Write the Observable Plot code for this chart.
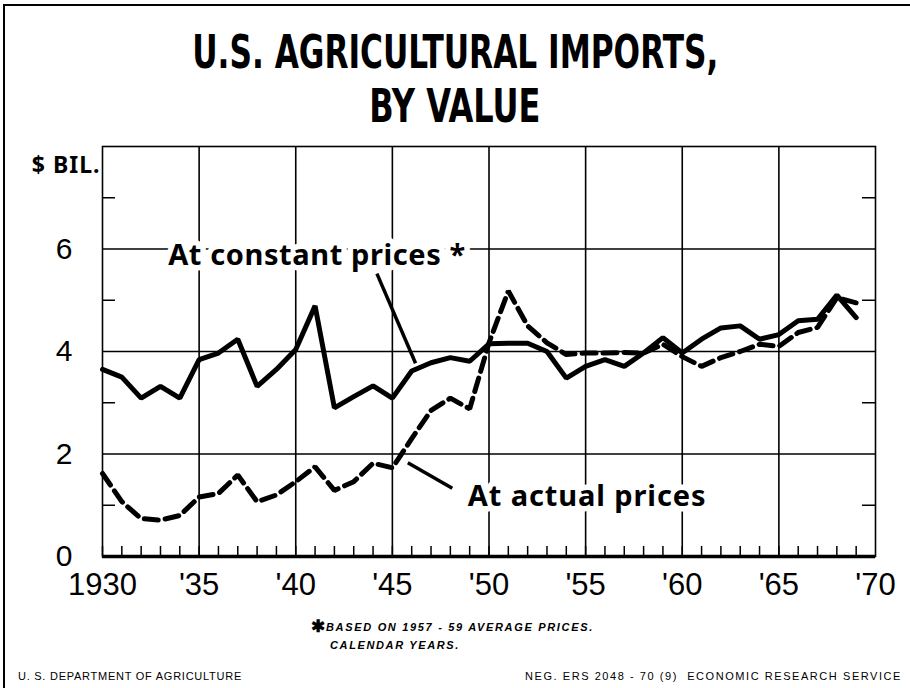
<!DOCTYPE html>
<html>
<head>
<meta charset="utf-8">
<script src="https://cdn.jsdelivr.net/npm/d3@7"></script>
<script src="https://cdn.jsdelivr.net/npm/@observablehq/plot@0.6"></script>
<style>
html, body { margin: 0; padding: 0; background: #fff; }
#page { position: relative; width: 910px; height: 688px; overflow: hidden; background: #fff; }
#border { position: absolute; left: 3px; top: 4px; width: 930px; height: 720px; border-top: 2px solid #000; border-left: 2px solid #000; z-index: 5; pointer-events: none; }
.title { position: absolute; left: 0; width: 910px; text-align: center; white-space: nowrap;
  font-family: "Liberation Sans Narrow", "DejaVu Sans Condensed", "Liberation Sans", sans-serif;
  font-weight: bold; font-size: 47px; line-height: 1; color: #000; }
.title span { display: inline-block; transform-origin: center; }
#chart { position: absolute; left: 0; top: 130px; }
.note { position: absolute; white-space: nowrap; font-family: "Liberation Sans", sans-serif; font-style: italic; font-weight: bold; font-size: 11px; line-height: 1; color: #000; }
.foot { position: absolute; white-space: nowrap; font-family: "Liberation Sans", sans-serif; font-size: 11px; line-height: 1; color: #000; }
.fit { display: inline-block; }
</style>
</head>
<body>
<div id="page">
  <div class="title" style="top:28px"><span id="t1">U.S. AGRICULTURAL IMPORTS,</span></div>
  <div class="title" style="top:82px"><span id="t2">BY VALUE</span></div>
  <div id="chart"></div>
  <div class="note" style="left:311px;top:618px;font-size:17px;font-style:normal">✱</div>
  <div class="note" style="left:326px;top:622px"><span class="fit" id="n1">BASED ON 1957 - 59 AVERAGE PRICES.</span></div>
  <div class="note" style="left:330px;top:640px"><span class="fit" id="n2">CALENDAR YEARS.</span></div>
  <div class="foot" style="left:18px;top:671px"><span class="fit" id="f1">U. S. DEPARTMENT OF AGRICULTURE</span></div>
  <div class="foot" style="left:525px;top:671px"><span class="fit" id="f2">NEG. ERS 2048 - 70 (9)&nbsp; ECONOMIC RESEARCH SERVICE</span></div>
  <div id="border"></div>
</div>
<script>
// ---- data ----
const years = [1930,1931,1932,1933,1934,1935,1936,1937,1938,1939,
               1940,1941,1942,1943,1944,1945,1946,1947,1948,1949,
               1950,1951,1952,1953,1954,1955,1956,1957,1958,1959,
               1960,1961,1962,1963,1964,1965,1966,1967,1968,1969];
// At constant prices (1957-59 average), $ billion
const constantPrices = [3.65,3.50,3.09,3.32,3.09,3.84,3.97,4.24,3.32,3.65,
                        4.04,4.89,2.90,3.12,3.33,3.09,3.62,3.78,3.88,3.81,
                        4.15,4.16,4.16,4.00,3.48,3.71,3.84,3.71,3.97,4.27,
                        3.97,4.24,4.46,4.50,4.24,4.33,4.60,4.63,5.10,4.66];
// At actual prices, $ billion
const actualPrices = [1.62,1.07,0.74,0.71,0.80,1.16,1.23,1.59,1.07,1.20,
                      1.46,1.75,1.29,1.46,1.82,1.73,2.30,2.85,3.09,2.88,
                      4.17,5.18,4.50,4.17,3.94,3.97,3.97,3.98,3.97,4.14,
                      3.90,3.71,3.88,4.00,4.14,4.10,4.37,4.47,5.05,4.95];
const xTicks = [1930,1935,1940,1945,1950,1955,1960,1965,1970];
const xTickLabels = ["1930","'35","'40","'45","'50","'55","'60","'65","'70"];
const xGrid = [1935,1940,1945,1950,1955,1960,1965];
const yTicks = [0,2,4,6];
const yTickLabels = ["0","2","4","6"];
const yGrid = [2,4,6];
const yMinor = [1,3,5,7];
const yLabel = "$ BIL.";
// annotations: label text and data-space anchor, leader line ends
const labelTexts = ["At constant prices *","At actual prices"];
const labelX = [1933.4, 1948.9];
const labelY = [5.86, 1.17];
const leaderX1 = [1944.2, 1945.8];
const leaderY1 = [5.52, 1.83];
const leaderX2 = [1946.2, 1948.1];
const leaderY2 = [3.77, 1.33];

const rows = years.map((yr, i) => ({year: yr, constant: constantPrices[i], actual: actualPrices[i]}));
const labels = labelTexts.map((t, i) => ({text: t, x: labelX[i], y: labelY[i]}));
const leaders = leaderX1.map((x, i) => ({x1: x, y1: leaderY1[i], x2: leaderX2[i], y2: leaderY2[i]}));
const xLabelMap = new Map(xTicks.map((t, i) => [t, xTickLabels[i]]));
const yLabelMap = new Map(yTicks.map((t, i) => [t, yTickLabels[i]]));

const W = 910, H = 480, mL = 102, mR = 35, mT = 16, mB = 54;
const innerW = W - mL - mR, innerH = H - mT - mB;
const tickFont = "'Liberation Sans', Arial, sans-serif";
const annFont = "'Noto Sans', 'DejaVu Sans', sans-serif";

const chart = Plot.plot({
  width: W, height: H,
  marginLeft: mL, marginRight: mR, marginTop: mT, marginBottom: mB,
  x: {domain: [1930, 1970]},
  y: {domain: [0, 8]},
  style: {background: "transparent", color: "black", overflow: "visible"},
  marks: [
    Plot.gridX(xGrid, {stroke: "black", strokeOpacity: 1, strokeWidth: 1.6}),
    Plot.gridY(yGrid, {stroke: "black", strokeOpacity: 1, strokeWidth: 1.6}),
    Plot.frame({stroke: "black", strokeWidth: 1.6}),
    Plot.tickX(years, {x: d => d, insetTop: innerH - 10, stroke: "black", strokeWidth: 1.5}),
    Plot.tickY(yMinor, {y: d => d, insetRight: innerW - 13, stroke: "black", strokeWidth: 1.5}),
    Plot.tickY(yMinor, {y: d => d, insetLeft: innerW - 13, stroke: "black", strokeWidth: 1.5}),
    Plot.ruleY([0], {stroke: "black", strokeWidth: 3.5}),
    Plot.axisX(xTicks, {tickSize: 0, tickPadding: 16, tickFormat: d => xLabelMap.get(d),
      fontSize: 31, fontFamily: tickFont, label: null}),
    Plot.axisY(yTicks, {tickSize: 0, tickPadding: 30, tickFormat: d => yLabelMap.get(d),
      fontSize: 30, fontFamily: tickFont, label: null}),
    Plot.text([yLabel], {frameAnchor: "top-left", dx: -2, dy: 10, textAnchor: "end",
      fontSize: 23, fontWeight: "bold", fontFamily: annFont}),
    Plot.text(labels, {x: "x", y: "y", text: "text", textAnchor: "start",
      fontSize: 29, fontWeight: "bold", fontFamily: annFont,
      fill: "black", stroke: "white", strokeWidth: 11, paintOrder: "stroke", strokeLinejoin: "round"}),
    Plot.link(leaders, {x1: "x1", y1: "y1", x2: "x2", y2: "y2", stroke: "black", strokeWidth: 3.5}),
    Plot.line(rows, {x: "year", y: "actual", stroke: "black", strokeWidth: 5, strokeDasharray: "14,7", strokeLinejoin: "miter"}),
    Plot.line(rows, {x: "year", y: "constant", stroke: "black", strokeWidth: 5, strokeLinejoin: "miter"})
  ]
});
chart.querySelectorAll("text").forEach(t => {
  if (t.textContent === labelTexts[0]) t.setAttribute("letter-spacing", "0.6px");
  if (t.textContent === labelTexts[1]) t.setAttribute("letter-spacing", "0.9px");
  if (t.textContent === yLabel) t.setAttribute("letter-spacing", "1px");
});
document.getElementById("chart").appendChild(chart);

function fitScale(el, target) {
  const w = el.getBoundingClientRect().width;
  el.style.transform = "scaleX(" + (target / w) + ")";
}
function fitSpacing(el, target) {
  el.style.letterSpacing = "0px";
  const w = el.getBoundingClientRect().width;
  const n = el.textContent.length;
  el.style.letterSpacing = ((target - w) / n) + "px";
}
fitScale(document.getElementById("t1"), 526);
fitScale(document.getElementById("t2"), 171);
fitSpacing(document.getElementById("n1"), 268);
fitSpacing(document.getElementById("n2"), 130);
fitSpacing(document.getElementById("f1"), 224);
fitSpacing(document.getElementById("f2"), 377);
</script>
</body>
</html>
